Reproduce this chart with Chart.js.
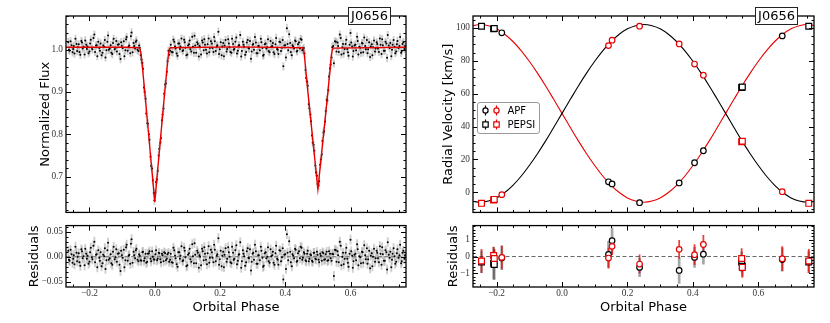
<!DOCTYPE html>
<html>
<head>
<meta charset="utf-8">
<script src="https://cdn.jsdelivr.net/npm/chart.js@4.4.1/dist/chart.umd.min.js"></script>
<style>
  html, body { margin: 0; padding: 0; background: #fff; }
  body { width: 830px; height: 323px; position: relative; overflow: hidden; }
  canvas { position: absolute; }
</style>
</head>
<body>
<canvas id="lcTop" width="415" height="221" style="left:0;top:0"></canvas>
<canvas id="lcRes" width="415" height="106" style="left:0;top:217px"></canvas>
<canvas id="rvTop" width="415" height="221" style="left:415px;top:0"></canvas>
<canvas id="rvRes" width="415" height="106" style="left:415px;top:217px"></canvas>
<script>
// axes
const phaseMin = -0.272, phaseMax = 0.77;
const phaseTicks = [-0.2, 0.0, 0.2, 0.4, 0.6];
const fluxTicks = [0.7, 0.8, 0.9, 1.0];
const fluxResTicks = [-0.05, 0.0, 0.05];
const rvTicks = [0, 20, 40, 60, 80, 100];
const rvResTicks = [-1, 0, 1];
const targetName = 'J0656';
const instruments = ['APF', 'PEPSI'];

// light curve (two interleaved blocks of cadences)
const lcPhase = [
  -0.265, -0.261, -0.255, -0.250, -0.246, -0.240, -0.236, -0.231, -0.225, -0.221,
  -0.215, -0.210, -0.206, -0.200, -0.196, -0.191, -0.185, -0.180, -0.176, -0.170,
  -0.166, -0.160, -0.155, -0.151, -0.145, -0.141, -0.135, -0.130, -0.126, -0.120,
  -0.116, -0.110, -0.105, -0.101, -0.095, -0.090, -0.086, -0.080, -0.075, -0.071,
  -0.065, -0.060, -0.056, -0.050, -0.046, -0.041, -0.036, -0.031, -0.026, -0.021,
  -0.016, -0.011, -0.006, -0.001, 0.004, 0.009, 0.014, 0.019, 0.024, 0.029,
  0.034, 0.039, 0.044, 0.049, 0.055, 0.060, 0.064, 0.070, 0.075, 0.079,
  0.085, 0.090, 0.094, 0.100, 0.105, 0.109, 0.115, 0.120, 0.124, 0.130,
  0.135, 0.139, 0.145, 0.150, 0.154, 0.160, 0.165, 0.169, 0.175, 0.180,
  0.184, 0.190, 0.195, 0.199, 0.205, 0.210, 0.214, 0.220, 0.225, 0.229,
  0.235, 0.240, 0.244, 0.250, 0.255, 0.259, 0.265, 0.270, 0.274, 0.280,
  0.285, 0.289, 0.295, 0.300, 0.304, 0.310, 0.315, 0.319, 0.325, 0.330,
  0.334, 0.340, 0.345, 0.349, 0.355, 0.360, 0.364, 0.370, 0.375, 0.379,
  0.385, 0.390, 0.394, 0.400, 0.405, 0.409, 0.415, 0.420, 0.424, 0.430,
  0.435, 0.439, 0.445, 0.450, 0.454, 0.459, 0.464, 0.469, 0.474, 0.479,
  0.484, 0.489, 0.494, 0.499, 0.504, 0.509, 0.514, 0.519, 0.524, 0.529,
  0.534, 0.539, 0.544, 0.549, 0.555, 0.560, 0.564, 0.570, 0.575, 0.579,
  0.585, 0.590, 0.594, 0.600, 0.605, 0.609, 0.615, 0.620, 0.624, 0.630,
  0.635, 0.639, 0.645, 0.650, 0.654, 0.660, 0.665, 0.669, 0.675, 0.680,
  0.684, 0.690, 0.695, 0.699, 0.705, 0.710, 0.714, 0.720, 0.725, 0.729,
  0.735, 0.740, 0.744, 0.750, 0.755, 0.759, 0.765,
  -0.263, -0.258, -0.252, -0.248, -0.243, -0.238, -0.233, -0.228, -0.223, -0.218,
  -0.213, -0.208, -0.203, -0.198, -0.193, -0.188, -0.183, -0.178, -0.173, -0.168,
  -0.163, -0.158, -0.153, -0.148, -0.143, -0.138, -0.133, -0.128, -0.123, -0.118,
  -0.113, -0.108, -0.103, -0.098, -0.093, -0.088, -0.083, -0.078, -0.073, -0.068,
  -0.063, -0.058, -0.053, -0.048, -0.043, -0.038, -0.033, -0.028, -0.023, -0.018,
  -0.013, -0.008, -0.003, 0.002, 0.007, 0.012, 0.017, 0.022, 0.027, 0.032,
  0.037, 0.042, 0.047, 0.052, 0.057, 0.062, 0.067, 0.072, 0.077, 0.082,
  0.087, 0.092, 0.097, 0.102, 0.107, 0.112, 0.117, 0.122, 0.127, 0.132,
  0.137, 0.142, 0.147, 0.152, 0.157, 0.162, 0.167, 0.172, 0.177, 0.182,
  0.187, 0.192, 0.197, 0.202, 0.207, 0.212, 0.217, 0.222, 0.227, 0.232,
  0.237, 0.242, 0.247, 0.252, 0.257, 0.262, 0.267, 0.272, 0.277, 0.282,
  0.287, 0.292, 0.297, 0.302, 0.307, 0.312, 0.317, 0.322, 0.327, 0.332,
  0.337, 0.342, 0.347, 0.352, 0.357, 0.362, 0.367, 0.372, 0.377, 0.382,
  0.387, 0.392, 0.397, 0.402, 0.407, 0.412, 0.417, 0.422, 0.427, 0.432,
  0.437, 0.442, 0.447, 0.452, 0.457, 0.462, 0.467, 0.472, 0.477, 0.482,
  0.487, 0.492, 0.497, 0.502, 0.507, 0.512, 0.517, 0.522, 0.527, 0.532,
  0.537, 0.542, 0.547, 0.552, 0.557, 0.562, 0.567, 0.572, 0.577, 0.582,
  0.587, 0.592, 0.597, 0.602, 0.607, 0.612, 0.617, 0.622, 0.627, 0.632,
  0.637, 0.642, 0.647, 0.652, 0.657, 0.662, 0.667, 0.672, 0.677, 0.682,
  0.687, 0.692, 0.697, 0.702, 0.707, 0.712, 0.717, 0.722, 0.727, 0.732,
  0.737, 0.742, 0.747, 0.752, 0.757, 0.762, 0.767
];
const lcFlux = [
  1.018, 0.998, 1.011, 1.002, 0.991, 1.014, 1.006, 0.995, 1.021, 1.003,
  0.989, 1.012, 1.008, 0.996, 1.024, 1.001, 1.036, 1.010, 0.985, 1.004,
  1.015, 0.993, 1.007, 0.982, 1.019, 1.000, 1.011, 0.990, 1.026, 1.005,
  0.996, 1.013, 0.978, 1.009, 1.020, 0.999, 1.030, 1.008, 0.992, 1.041,
  1.016, 1.003, 1.022, 0.997, 1.005, 0.977, 0.955, 0.900, 0.849, 0.825,
  0.787, 0.725, 0.691, 0.643, 0.687, 0.713, 0.766, 0.791, 0.847, 0.896,
  0.920, 0.973, 0.988, 1.012, 0.994, 1.019, 1.003, 0.986, 1.015, 1.008,
  0.997, 1.024, 1.005, 0.989, 1.013, 1.001, 1.031, 0.993, 1.010, 1.018,
  0.984, 1.006, 1.022, 0.999, 1.012, 0.991, 1.027, 1.004, 1.015, 0.995,
  1.020, 1.008, 1.043, 1.001, 0.987, 1.016, 1.010, 0.996, 1.025, 1.006,
  0.993, 1.014, 1.002, 1.029, 0.998, 1.011, 0.984, 1.019, 1.007, 0.995,
  1.023, 1.003, 0.979, 1.012, 1.000, 1.017, 0.992, 1.009, 1.026, 1.004,
  0.988, 1.015, 1.006, 0.997, 1.021, 1.009, 0.994, 1.013, 1.002, 0.990,
  1.018, 1.005, 0.961, 1.011, 1.051, 0.999, 1.016, 0.987, 1.008, 1.022,
  0.996, 1.013, 1.003, 1.024, 1.001, 0.991, 0.933, 0.915, 0.861, 0.831,
  0.780, 0.761, 0.710, 0.682, 0.689, 0.740, 0.784, 0.807, 0.855, 0.880,
  0.937, 0.965, 1.006, 0.968, 1.019, 1.017, 0.995, 1.028, 1.006, 0.991,
  1.014, 1.002, 0.986, 1.040, 1.008, 0.997, 1.012, 1.031, 0.989, 1.005,
  1.016, 0.994, 1.009, 1.023, 1.001, 0.983, 1.013, 1.006, 0.996, 1.018,
  1.003, 1.027, 0.990, 1.011, 0.998, 1.015, 1.035, 1.004, 0.985, 1.012,
  1.007, 0.996, 1.021, 1.009, 0.993, 1.014, 1.002,
  1.000, 1.020, 0.994, 1.009, 1.026, 0.997, 1.013, 0.988, 1.017, 1.007,
  1.022, 1.002, 0.992, 1.015, 1.005, 1.028, 0.995, 1.011, 1.019, 0.998,
  0.987, 1.010, 1.023, 0.999, 1.034, 1.003, 0.993, 1.016, 1.001, 1.021,
  1.012, 0.990, 1.018, 1.004, 0.985, 1.025, 0.998, 1.010, 1.032, 0.994,
  1.009, 1.019, 1.000, 1.010, 0.987, 0.969, 0.911, 0.884, 0.826, 0.800,
  0.747, 0.719, 0.661, 0.662, 0.693, 0.750, 0.780, 0.833, 0.861, 0.918,
  0.948, 0.998, 0.998, 0.995, 1.024, 1.008, 0.991, 1.015, 1.002, 1.027,
  0.999, 1.018, 0.987, 1.010, 1.022, 0.996, 1.007, 1.033, 0.993, 1.014,
  1.009, 0.989, 1.017, 1.025, 1.000, 1.013, 0.994, 1.020, 1.004, 1.030,
  0.997, 1.011, 0.990, 1.018, 1.008, 0.985, 1.023, 1.002, 1.015, 0.995,
  1.026, 1.000, 1.019, 0.991, 1.010, 1.035, 0.997, 1.012, 0.988, 1.017,
  1.004, 1.021, 0.996, 1.014, 1.030, 0.992, 1.009, 0.999, 1.018, 0.986,
  1.013, 1.003, 1.025, 0.994, 1.007, 1.016, 0.990, 1.028, 1.000, 1.019,
  0.997, 1.023, 1.010, 0.982, 1.014, 1.037, 0.995, 1.011, 1.003, 1.020,
  0.998, 1.017, 1.026, 0.999, 1.004, 0.952, 0.925, 0.871, 0.847, 0.797,
  0.775, 0.726, 0.702, 0.679, 0.728, 0.752, 0.804, 0.830, 0.882, 0.904,
  0.956, 0.982, 1.009, 1.020, 0.996, 1.009, 1.036, 0.989, 1.014, 1.002,
  1.024, 0.994, 1.012, 1.017, 0.984, 1.010, 0.999, 1.021, 1.007, 0.993,
  1.015, 1.029, 1.001, 0.992, 1.018, 1.008, 0.987, 1.022, 1.003, 1.014,
  0.995, 1.012, 1.025, 0.998, 1.019, 0.981, 1.010, 1.016, 1.000, 1.023,
  0.992, 1.013, 1.004, 1.030, 0.997, 1.018, 1.009
];
const lcResid = [
  0.012, -0.008, 0.005, -0.004, -0.015, 0.008, 0.000, -0.011, 0.015, -0.003,
  -0.017, 0.006, 0.002, -0.010, 0.018, -0.005, 0.030, 0.004, -0.021, -0.002,
  0.009, -0.013, 0.001, -0.024, 0.013, -0.006, 0.005, -0.016, 0.020, -0.001,
  -0.010, 0.007, -0.028, 0.003, 0.014, -0.007, 0.024, 0.002, -0.014, 0.035,
  0.010, -0.003, 0.016, -0.009, 0.002, -0.008, 0.010, -0.003, -0.012, 0.006,
  0.011, -0.009, 0.000, -0.006, 0.013, -0.004, 0.007, -0.011, 0.003, 0.009,
  -0.007, 0.005, -0.010, 0.006, -0.012, 0.013, -0.003, -0.020, 0.009, 0.002,
  -0.009, 0.018, -0.001, -0.017, 0.007, -0.005, 0.025, -0.013, 0.004, 0.012,
  -0.022, 0.000, 0.016, -0.007, 0.006, -0.015, 0.021, -0.002, 0.009, -0.011,
  0.014, 0.002, 0.037, -0.005, -0.019, 0.010, 0.004, -0.010, 0.019, 0.000,
  -0.013, 0.008, -0.004, 0.023, -0.008, 0.005, -0.022, 0.013, 0.001, -0.011,
  0.017, -0.003, -0.027, 0.006, -0.006, 0.011, -0.014, 0.003, 0.020, -0.002,
  -0.018, 0.009, 0.000, -0.009, 0.015, 0.003, -0.012, 0.007, -0.004, -0.016,
  0.012, -0.001, -0.045, 0.005, 0.045, -0.007, 0.010, -0.019, 0.002, 0.016,
  -0.010, 0.007, -0.003, 0.018, -0.002, 0.006, -0.009, 0.012, -0.004, 0.003,
  -0.010, 0.008, -0.005, 0.004, -0.011, 0.002, 0.009, -0.006, 0.005, -0.008,
  0.011, -0.003, 0.006, -0.038, 0.013, 0.011, -0.011, 0.022, 0.000, -0.015,
  0.008, -0.004, -0.020, 0.034, 0.002, -0.009, 0.006, 0.025, -0.017, -0.001,
  0.010, -0.012, 0.003, 0.017, -0.005, -0.023, 0.007, 0.000, -0.010, 0.012,
  -0.003, 0.021, -0.016, 0.005, -0.008, 0.009, 0.029, -0.002, -0.021, 0.006,
  0.001, -0.010, 0.015, 0.003, -0.013, 0.008, -0.004,
  -0.006, 0.014, -0.012, 0.003, 0.020, -0.009, 0.007, -0.018, 0.011, 0.001,
  0.016, -0.004, -0.014, 0.009, -0.001, 0.022, -0.011, 0.005, 0.013, -0.008,
  -0.019, 0.004, 0.017, -0.007, 0.028, -0.003, -0.013, 0.010, -0.005, 0.015,
  0.006, -0.016, 0.012, -0.002, -0.021, 0.019, -0.008, 0.004, 0.026, -0.012,
  0.003, 0.013, -0.006, 0.005, -0.007, 0.009, -0.008, 0.006, -0.010, 0.007,
  -0.004, 0.011, -0.005, 0.005, -0.007, 0.008, -0.005, 0.006, -0.009, 0.007,
  -0.004, 0.008, -0.006, -0.011, 0.018, 0.002, -0.015, 0.009, -0.004, 0.021,
  -0.007, 0.012, -0.019, 0.004, 0.016, -0.010, 0.001, 0.027, -0.013, 0.008,
  0.003, -0.017, 0.011, 0.019, -0.006, 0.007, -0.012, 0.014, -0.002, 0.024,
  -0.009, 0.005, -0.016, 0.012, 0.002, -0.021, 0.017, -0.004, 0.009, -0.011,
  0.020, -0.006, 0.013, -0.015, 0.004, 0.029, -0.009, 0.006, -0.018, 0.011,
  -0.002, 0.015, -0.010, 0.008, 0.024, -0.014, 0.003, -0.007, 0.012, -0.020,
  0.007, -0.003, 0.019, -0.012, 0.001, 0.010, -0.016, 0.022, -0.006, 0.013,
  -0.009, 0.017, 0.004, -0.024, 0.008, 0.031, -0.011, 0.005, -0.003, 0.014,
  -0.008, 0.011, 0.020, -0.006, 0.009, -0.007, 0.006, -0.009, 0.005, -0.008,
  0.008, -0.004, 0.010, -0.006, 0.006, -0.008, 0.007, -0.005, 0.010, -0.007,
  0.006, -0.008, 0.005, 0.014, -0.010, 0.003, 0.030, -0.017, 0.008, -0.004,
  0.018, -0.012, 0.006, 0.011, -0.022, 0.004, -0.007, 0.015, 0.001, -0.013,
  0.009, 0.023, -0.005, -0.014, 0.012, 0.002, -0.019, 0.016, -0.003, 0.008,
  -0.011, 0.006, 0.019, -0.008, 0.013, -0.025, 0.004, 0.010, -0.006, 0.017,
  -0.014, 0.007, -0.002, 0.024, -0.009, 0.012, 0.003
];
const lcErr = 0.009;

// eclipse model (red line)
const modelPhase = [-0.272, -0.1, -0.048, -0.045, -0.042, -0.038, -0.030, -0.020, -0.010, 0.000,
  0.010, 0.020, 0.030, 0.038, 0.042, 0.045, 0.048, 0.25, 0.453, 0.456, 0.459, 0.463, 0.470,
  0.480, 0.490, 0.500, 0.510, 0.520, 0.530, 0.537, 0.541, 0.544, 0.547, 0.77];
const modelFlux = [1.006, 1.006, 1.005, 1.002, 0.990, 0.960, 0.895, 0.810, 0.725, 0.640,
  0.725, 0.810, 0.895, 0.960, 0.990, 1.002, 1.005, 1.007, 1.005, 1.000, 0.985, 0.950, 0.895,
  0.820, 0.745, 0.670, 0.745, 0.820, 0.895, 0.950, 0.985, 1.000, 1.004, 1.006];

// radial velocity model curves
const rvModelPhase = [-0.275, -0.25, -0.225, -0.2, -0.175, -0.15, -0.125, -0.1, -0.075, -0.05, -0.025, 0,
  0.025, 0.05, 0.075, 0.1, 0.125, 0.15, 0.175, 0.2, 0.225, 0.25,
  0.275, 0.3, 0.325, 0.35, 0.375, 0.4, 0.425, 0.45, 0.475, 0.5,
  0.525, 0.55, 0.575, 0.6, 0.625, 0.65, 0.675, 0.7, 0.725, 0.75, 0.775];
const rvModelBlack = [-5.3, -6.0, -5.3, -3.4, -0.1, 4.3, 9.8, 16.3, 23.5, 31.3, 39.6, 48.0,
  56.4, 64.7, 72.5, 79.7, 86.2, 91.7, 96.1, 99.4, 101.3, 102.0,
  101.3, 99.4, 96.1, 91.7, 86.2, 79.7, 72.5, 64.7, 56.4, 48.0,
  39.6, 31.3, 23.5, 16.3, 9.8, 4.3, -0.1, -3.4, -5.3, -6.0, -5.3];
const rvModelRed = [101.3, 102.0, 101.3, 99.4, 96.1, 91.7, 86.2, 79.7, 72.5, 64.7, 56.4, 48.0,
  39.6, 31.3, 23.5, 16.3, 9.8, 4.3, -0.1, -3.4, -5.3, -6.0,
  -5.3, -3.4, -0.1, 4.3, 9.8, 16.3, 23.5, 31.3, 39.6, 48.0,
  56.4, 64.7, 72.5, 79.7, 86.2, 91.7, 96.1, 99.4, 101.3, 102.0, 101.3];

// APF velocities
const apfPhase = [-0.184, 0.142, 0.153, 0.237, 0.358, 0.405, 0.432, 0.673];
const apfBlack = [97.0, 6.4, 5.1, -6.3, 5.7, 18.0, 25.3, 95.1];
const apfRed = [-1.4, 89.2, 92.5, 101.0, 90.2, 78.0, 71.2, 0.4];
const apfBlackErr = [0.70, 0.78, 0.75, 0.55, 0.77, 0.60, 0.60, 0.70];
const apfRedErr = [0.69, 0.60, 0.50, 0.55, 0.54, 0.60, 0.54, 0.72];
const apfBlackRes = [-0.08, 0.13, 0.95, -0.65, -0.83, -0.05, 0.14, -0.18];
const apfRedRes = [-0.05, -0.09, 0.61, -0.45, 0.43, 0.11, 0.72, -0.13];

// PEPSI velocities
const pepsiPhase = [-0.246, -0.209, -0.207, 0.549, 0.551, 0.754];
const pepsiBlack = [101.0, 99.4, 99.6, 63.7, 64.0, 101.0];
const pepsiRed = [-6.7, -4.6, -4.3, 30.8, 31.1, -6.7];
const pepsiBlackErr = [0.65, 0.95, 0.90, 0.60, 0.60, 0.65];
const pepsiRedErr = [0.70, 0.50, 0.50, 0.60, 0.60, 0.70];
const pepsiBlackRes = [-0.32, -0.40, -0.47, -0.32, -0.58, -0.32];
const pepsiRedRes = [-0.27, 0.06, -0.12, -0.12, -0.65, -0.27];

const RED = '#e80000';
const tickFont = { family: '"Liberation Serif", "Times New Roman", serif', size: 9.3 };
const titleFont = { family: '"DejaVu Sans", sans-serif', size: 13 };
const fmt = (v, d) => Number(v).toFixed(d).replace('-', '\u2212');

const pts = (xs, ys) => xs.map((x, i) => ({ x, y: ys[i] }));
const errBars = (xs, ys, es) => xs.map((x, i) => {
  const e = Array.isArray(es) ? es[i] : es;
  return { x, y: [ys[i] - e, ys[i] + e] };
});

function barSet(data, color, thick, order) {
  return { type: 'bar', data, backgroundColor: color, borderWidth: 0, barThickness: thick, grouped: false, order };
}
function lineSet(data, color, width, extra) {
  return Object.assign({ type: 'line', data, borderColor: color, borderWidth: width,
    pointRadius: 0, fill: false, tension: 0, order: 3 }, extra);
}
function markSet(data, color, style, radius, order) {
  return { type: 'scatter', data, pointStyle: style, pointRadius: radius, borderColor: color,
    backgroundColor: '#fff', borderWidth: 1.2, order };
}

// frame + inward ticks on all four sides
const frameTicks = {
  id: 'frameTicks',
  afterDatasetsDraw(chart, args, opts) {
    const { ctx, chartArea: a, scales: { x, y } } = chart;
    const minors = (s, step) => {
      const out = [];
      for (let k = Math.ceil(s.min / step - 1e-6); k * step <= s.max + 1e-9; k++) out.push(k * step);
      return out;
    };
    ctx.save();
    ctx.strokeStyle = '#000';
    ctx.lineWidth = 1;
    ctx.beginPath();
    const xMarks = (vals, len) => vals.forEach(v => {
      const p = Math.round(x.getPixelForValue(v)) + 0.5;
      if (p < a.left || p > a.right) return;
      ctx.moveTo(p, a.bottom); ctx.lineTo(p, a.bottom - len);
      ctx.moveTo(p, a.top); ctx.lineTo(p, a.top + len);
    });
    const yMarks = (vals, len) => vals.forEach(v => {
      const p = Math.round(y.getPixelForValue(v)) + 0.5;
      if (p < a.top || p > a.bottom) return;
      ctx.moveTo(a.left, p); ctx.lineTo(a.left + len, p);
      ctx.moveTo(a.right, p); ctx.lineTo(a.right - len, p);
    });
    xMarks(minors(x, opts.xMinor), 2.5);
    xMarks(opts.xMajor, 5);
    yMarks(minors(y, opts.yMinor), 2.5);
    yMarks(opts.yMajor, 5);
    ctx.stroke();
    ctx.lineWidth = 1.3;
    ctx.strokeRect(a.left, a.top, a.right - a.left, a.bottom - a.top);
    ctx.restore();
  }
};

// boxed target name
const tagBox = {
  id: 'tagBox',
  afterDraw(chart, args, opts) {
    if (!opts.text) return;
    const { ctx, chartArea: a } = chart;
    ctx.save();
    ctx.font = '13px "DejaVu Sans"';
    const w = Math.round(ctx.measureText(opts.text).width + 5), h = 17;
    const x = Math.round(a.right - opts.right - w), y = Math.round(a.top - 9);
    ctx.fillStyle = '#fff';
    ctx.fillRect(x, y, w, h);
    ctx.strokeStyle = '#222';
    ctx.lineWidth = 1;
    ctx.strokeRect(x + 0.5, y + 0.5, w, h);
    ctx.fillStyle = '#000';
    ctx.textAlign = 'center';
    ctx.textBaseline = 'middle';
    ctx.fillText(opts.text, x + w / 2 + 0.5, y + h / 2 + 1);
    ctx.restore();
  }
};

// legend: black and red marker with error bar per instrument
const rvLegend = {
  id: 'rvLegend',
  afterDraw(chart, args, opts) {
    if (!opts.show) return;
    const { ctx, chartArea: a } = chart;
    const x0 = Math.round(a.left + 4) + 0.5, y0 = Math.round(a.top + 86) + 0.5, w = 62, h = 31;
    ctx.save();
    ctx.beginPath();
    if (ctx.roundRect) ctx.roundRect(x0, y0, w, h, 2.5); else ctx.rect(x0, y0, w, h);
    ctx.fillStyle = 'rgba(255,255,255,0.85)';
    ctx.fill();
    ctx.strokeStyle = '#999';
    ctx.lineWidth = 1;
    ctx.stroke();
    instruments.forEach((label, r) => {
      const yy = y0 + 8 + r * 14;
      [['#000', x0 + 8], [RED, x0 + 19]].forEach(([c, xx]) => {
        ctx.strokeStyle = c;
        ctx.lineWidth = 1.2;
        ctx.beginPath();
        ctx.moveTo(xx, yy - 5); ctx.lineTo(xx, yy + 5);
        ctx.stroke();
        ctx.beginPath();
        if (r === 0) ctx.arc(xx, yy, 2.6, 0, Math.PI * 2);
        else ctx.rect(xx - 2.7, yy - 2.7, 5.4, 5.4);
        ctx.fillStyle = '#fff';
        ctx.fill();
        ctx.stroke();
      });
      ctx.fillStyle = '#000';
      ctx.font = '10px "DejaVu Sans"';
      ctx.textAlign = 'left';
      ctx.textBaseline = 'middle';
      ctx.fillText(label, x0 + 30, yy + 0.5);
    });
    ctx.restore();
  }
};

function panel(o) {
  return new Chart(document.getElementById(o.id), {
    type: 'scatter',
    data: { datasets: o.datasets },
    options: {
      responsive: false,
      animation: false,
      events: [],
      layout: { padding: o.padding },
      plugins: {
        legend: { display: false },
        tooltip: { enabled: false },
        frameTicks: { xMinor: 0.05, xMajor: phaseTicks, yMinor: o.yMinor, yMajor: o.yTicks },
        tagBox: { text: o.tag || '', right: o.tagRight || 0 },
        rvLegend: { show: !!o.legend }
      },
      scales: {
        x: {
          type: 'linear', min: phaseMin, max: phaseMax, offset: false,
          display: o.showX,
          grid: { display: false, drawTicks: false },
          border: { display: false },
          afterBuildTicks: s => { s.ticks = phaseTicks.map(v => ({ value: v })); },
          afterFit: s => { s.height = o.showX ? 36 : 0; },
          ticks: { padding: 0.5, autoSkip: false, maxRotation: 0, font: tickFont, color: '#333',
            callback: v => fmt(v, 1) },
          title: { display: o.showX, text: 'Orbital Phase', font: titleFont, color: '#000',
            padding: { top: 0, bottom: 8 } }
        },
        y: {
          type: 'linear', min: o.yMin, max: o.yMax, beginAtZero: false,
          grid: { display: false, drawTicks: false },
          border: { display: false },
          afterBuildTicks: s => { s.ticks = o.yTicks.map(v => ({ value: v })); },
          afterFit: s => { s.width = o.yWidth; },
          ticks: { padding: 3, font: tickFont, color: '#333', callback: v => fmt(v, o.yDec) },
          title: { display: true, text: o.yTitle, font: titleFont, color: '#000',
            padding: { top: o.yTitlePad, bottom: 0 } }
        }
      }
    },
    plugins: [frameTicks, tagBox, rvLegend]
  });
}

const zeroLine = [{ x: phaseMin, y: 0 }, { x: phaseMax, y: 0 }];
const lcBarColor = 'rgba(165,165,165,0.55)';

panel({
  id: 'lcTop', padding: { left: 0, right: 9, top: 16, bottom: 2 }, yWidth: 66,
  yMin: 0.615, yMax: 1.08, yTicks: fluxTicks, yDec: 1, yMinor: 0.02,
  yTitle: 'Normalized Flux', yTitlePad: 38, showX: false, tag: targetName, tagRight: 16,
  datasets: [
    lineSet(pts(modelPhase, modelFlux), RED, 1.4, { order: 0 }),
    { type: 'scatter', data: pts(lcPhase, lcFlux), pointRadius: 1, backgroundColor: '#000',
      borderWidth: 0, order: 1 },
    barSet(errBars(lcPhase, lcFlux, lcErr), lcBarColor, 1.2, 2)
  ]
});

panel({
  id: 'lcRes', padding: { left: 0, right: 9, top: 2, bottom: 0 }, yWidth: 66,
  yMin: -0.06, yMax: 0.062, yTicks: fluxResTicks, yDec: 2, yMinor: 0.01,
  yTitle: 'Residuals', yTitlePad: 26.5, showX: true,
  datasets: [
    { type: 'scatter', data: pts(lcPhase, lcResid), pointRadius: 1, backgroundColor: '#000',
      borderWidth: 0, order: 0 },
    lineSet(zeroLine, '#666', 1, { borderDash: [4, 2.5], order: 1 }),
    barSet(errBars(lcPhase, lcResid, lcErr), lcBarColor, 1.2, 2)
  ]
});

panel({
  id: 'rvTop', padding: { left: 0, right: 16, top: 16, bottom: 2 }, yWidth: 58,
  yMin: -12.2, yMax: 107.2, yTicks: rvTicks, yDec: 0, yMinor: 5,
  yTitle: 'Radial Velocity [km/s]', yTitlePad: 26.2, showX: false, tag: targetName, tagRight: 17,
  legend: true,
  datasets: [
    markSet(pts(apfPhase, apfBlack), '#000', 'circle', 2.8, 0),
    markSet(pts(apfPhase, apfRed), RED, 'circle', 2.8, 0),
    markSet(pts(pepsiPhase, pepsiBlack), '#000', 'rect', 4.1, 0),
    markSet(pts(pepsiPhase, pepsiRed), RED, 'rect', 4.1, 0),
    barSet(errBars(apfPhase, apfBlack, apfBlackErr), '#000', 1.2, 1),
    barSet(errBars(apfPhase, apfRed, apfRedErr), RED, 1.2, 1),
    barSet(errBars(pepsiPhase, pepsiBlack, pepsiBlackErr), '#000', 1.2, 1),
    barSet(errBars(pepsiPhase, pepsiRed, pepsiRedErr), RED, 1.2, 1),
    lineSet(pts(rvModelPhase, rvModelBlack), '#000', 1.1, { tension: 0.4, order: 2 }),
    lineSet(pts(rvModelPhase, rvModelRed), RED, 1.1, { tension: 0.4, order: 2 })
  ]
});

panel({
  id: 'rvRes', padding: { left: 0, right: 16, top: 2, bottom: 0 }, yWidth: 58,
  yMin: -1.82, yMax: 1.85, yTicks: rvResTicks, yDec: 0, yMinor: 0.2,
  yTitle: 'Residuals', yTitlePad: 30.5, showX: true,
  datasets: [
    markSet(pts(apfPhase, apfRedRes), RED, 'circle', 2.8, 0),
    markSet(pts(pepsiPhase, pepsiRedRes), RED, 'rect', 4.1, 0),
    markSet(pts(apfPhase, apfBlackRes), '#000', 'circle', 2.8, 1),
    markSet(pts(pepsiPhase, pepsiBlackRes), '#000', 'rect', 4.1, 1),
    barSet(errBars(apfPhase, apfRedRes, apfRedErr), 'rgba(225,0,0,0.75)', 1.1, 2),
    barSet(errBars(pepsiPhase, pepsiRedRes, pepsiRedErr), 'rgba(225,0,0,0.75)', 1.1, 2),
    barSet(errBars(apfPhase, apfBlackRes, apfBlackErr), 'rgba(0,0,0,0.35)', 2, 3),
    barSet(errBars(pepsiPhase, pepsiBlackRes, pepsiBlackErr), 'rgba(0,0,0,0.35)', 2, 3),
    lineSet(zeroLine, '#666', 1, { borderDash: [4, 2.5], order: 4 })
  ]
});
</script>
</body>
</html>
